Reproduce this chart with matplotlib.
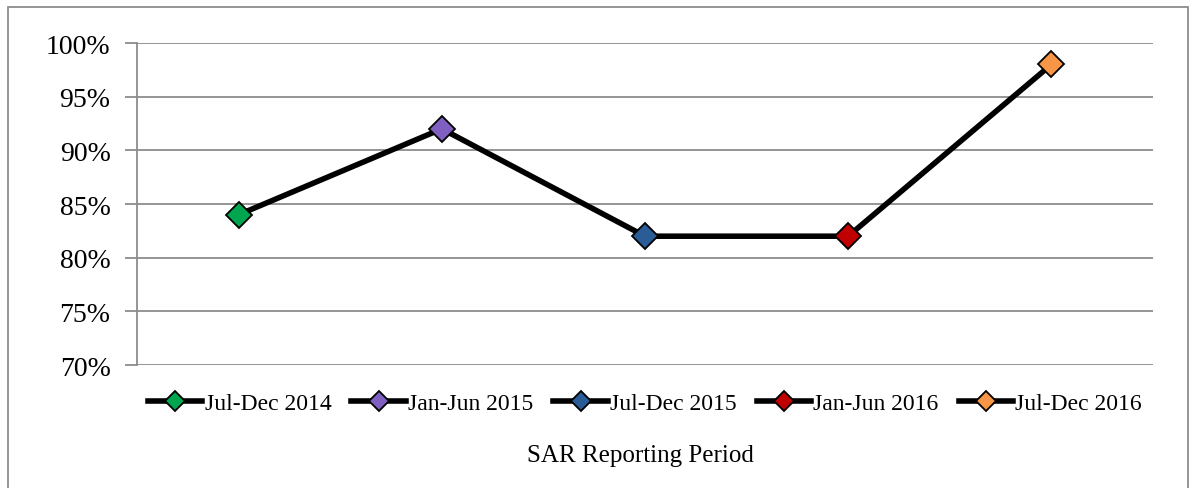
import matplotlib.pyplot as plt
from matplotlib.patches import Rectangle
from matplotlib.ticker import FuncFormatter, MultipleLocator

# Data
periods = ["Jul-Dec 2014", "Jan-Jun 2015", "Jul-Dec 2015", "Jan-Jun 2016", "Jul-Dec 2016"]
rates = [84, 92, 82, 82, 98]
marker_colors = ["#00a550", "#7f5fc0", "#2a5c96", "#c00000", "#f79646"]

plt.rcParams["font.family"] = ["Liberation Serif", "DejaVu Serif"]

W, H = 1189, 489
fig = plt.figure(figsize=(W / 100, H / 100), dpi=100)
ax = fig.add_axes([137 / W, 1 - 366 / H, (1153 - 137) / W, (366 - 44) / H])

x = list(range(len(periods)))
ax.plot(x, rates, color="black", linewidth=4, zorder=3, solid_capstyle="round")
for xi, yi, c, lab in zip(x, rates, marker_colors, periods):
    ax.plot([xi], [yi], linestyle="-", color="black", linewidth=4,
            marker="D", markersize=13, markerfacecolor=c,
            markeredgecolor="black", markeredgewidth=1.3, label=lab, zorder=4)

ax.set_xlim(-0.5, len(periods) - 0.5)
ax.set_ylim(70, 100)
ax.yaxis.set_major_locator(MultipleLocator(5))
ax.yaxis.set_major_formatter(FuncFormatter(lambda v, _: f"{v:.0f}%"))
ax.set_xticks([])
ax.grid(True, axis="y", color="#8c8c8c", linewidth=1.3)
ax.set_axisbelow(True)

for side in ["top", "right", "bottom"]:
    ax.spines[side].set_visible(False)
ax.spines["left"].set_color("#8c8c8c")
ax.spines["left"].set_linewidth(1.3)
ax.tick_params(axis="y", length=9, width=1.3, color="#8c8c8c",
               labelsize=20, pad=10)

ax.legend(loc="center", bbox_to_anchor=(0.5, -(404 - 366) / 322), ncol=5,
          frameon=False, fontsize=17, handlelength=2.3, handletextpad=0.1,
          columnspacing=0.85, markerscale=0.75, borderpad=0)

fig.text(640 / W, 1 - 456 / H, "SAR Reporting Period", ha="center", va="center",
         fontsize=18)

# outer chart frame
fig.patches.append(Rectangle((8 / W, -0.1), (1188 - 8) / W, 1.1 - 8 / H,
                             transform=fig.transFigure, fill=False,
                             edgecolor="#8c8c8c", linewidth=1.3))

fig.savefig("out.png", dpi=100)
